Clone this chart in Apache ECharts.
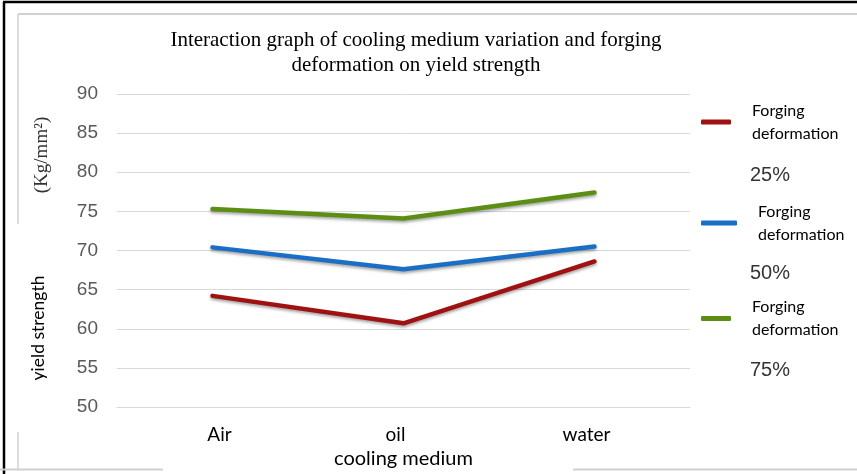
<!DOCTYPE html>
<html>
<head>
<meta charset="utf-8">
<script src="https://cdn.jsdelivr.net/npm/echarts@6/dist/echarts.min.js"></script>
<style>
html,body{margin:0;padding:0;background:#fff;}
#chart{width:857px;height:474px;}
</style>
</head>
<body>
<div id="chart"></div>
<script>
var categories = ['Air', 'oil', 'water'];
var seriesNames = ['Forging deformation 25%', 'Forging deformation 50%', 'Forging deformation 75%'];
var percentLabels = ['25%', '50%', '75%'];
var deform25 = [64.2, 60.7, 68.6];
var deform50 = [70.4, 67.6, 70.5];
var deform75 = [75.3, 74.1, 77.4];
var yTicks = [50, 55, 60, 65, 70, 75, 80, 85, 90];
var titleText = 'Interaction graph of cooling medium variation and forging\ndeformation on yield strength';
var xName = 'cooling medium';
var yName = 'yield strength';
var yUnit = '(Kg/mm\u00B2)';

var colors = ['#A01212', '#1A6FC4', '#5C8E14'];
var values = [deform25, deform50, deform75];

var chart = echarts.init(document.getElementById('chart'), null, {renderer: 'canvas'});

function mkLegend(i, left, top, iconW) {
  return {
    show: true,
    orient: 'vertical',
    left: left,
    top: top,
    padding: 0,
    data: [seriesNames[i]],
    icon: 'roundRect',
    itemWidth: iconW,
    itemHeight: 5,
    selectedMode: false,
    formatter: function () { return 'Forging\ndeformation'; },
    textStyle: {
      fontFamily: 'Lato',
      fontSize: 16,
      color: '#000',
      lineHeight: 23,
      padding: [0, 0, 0, 16]
    }
  };
}

var series = values.map(function (v, i) {
  return {
    name: seriesNames[i],
    type: 'line',
    data: v,
    symbol: 'none',
    lineStyle: {
      width: 4.5,
      color: colors[i],
      cap: 'round',
      join: 'round',
      shadowColor: 'rgba(0,0,0,0.35)',
      shadowBlur: 3,
      shadowOffsetY: 2
    },
    itemStyle: {color: colors[i]},
    z: 3
  };
});

var xLabelFont = {fontFamily: 'Lato', fontSize: 19, color: '#000'};

var option = {
  animation: false,
  backgroundColor: '#fff',
  title: {
    text: titleText,
    left: 416,
    textAlign: 'center',
    top: 27.5,
    padding: 0,
    textStyle: {
      fontFamily: 'Liberation Serif',
      fontWeight: 'normal',
      fontSize: 21,
      color: '#000',
      lineHeight: 25
    }
  },
  legend: [
    mkLegend(0, 701, 99, 30),
    mkLegend(1, 701, 200, 36),
    mkLegend(2, 701, 295.5, 30)
  ],
  grid: {left: 117, right: 167, top: 94, bottom: 67},
  xAxis: {
    type: 'category',
    data: categories,
    boundaryGap: true,
    name: xName,
    nameLocation: 'middle',
    nameGap: 41,
    nameTextStyle: {fontFamily: 'Lato', fontSize: 20, color: '#000'},
    axisLine: {show: true, lineStyle: {color: '#d9d9d9', width: 1}},
    axisTick: {show: false},
    axisLabel: {
      margin: 18,
      fontFamily: 'Lato', fontSize: 19, color: '#000',
      formatter: function (v, i) { return '{l' + i + '|' + v + '}'; },
      rich: {
        l0: Object.assign({padding: [0, 0, 0, 14]}, xLabelFont),
        l1: Object.assign({padding: [0, 16, 0, 0]}, xLabelFont),
        l2: Object.assign({padding: [0, 16, 0, 0]}, xLabelFont)
      }
    }
  },
  yAxis: {
    type: 'value',
    min: yTicks[0],
    max: yTicks[yTicks.length - 1],
    interval: yTicks[1] - yTicks[0],
    axisLine: {show: false},
    axisTick: {show: false},
    axisLabel: {margin: 19, fontFamily: 'Liberation Sans', fontSize: 19, color: '#595959'},
    splitLine: {lineStyle: {color: '#d9d9d9', width: 1}}
  },
  series: series,
  graphic: [
    {type: 'line', shape: {x1: 3, y1: 2, x2: 857, y2: 2}, style: {stroke: '#000', lineWidth: 2.5}, silent: true},
    {type: 'line', shape: {x1: 4, y1: 2, x2: 4, y2: 474}, style: {stroke: '#000', lineWidth: 2.5}, silent: true},
    {type: 'line', shape: {x1: 18, y1: 14, x2: 857, y2: 14}, style: {stroke: '#d0d0d0', lineWidth: 2}, silent: true},
    {type: 'line', shape: {x1: 18, y1: 14, x2: 18, y2: 224}, style: {stroke: '#d0d0d0', lineWidth: 1.5}, silent: true},
    {type: 'line', shape: {x1: 18, y1: 432, x2: 18, y2: 469}, style: {stroke: '#d0d0d0', lineWidth: 1.5}, silent: true},
    {type: 'line', shape: {x1: 0, y1: 469.5, x2: 163, y2: 469.5}, style: {stroke: '#d0d0d0', lineWidth: 2}, silent: true},
    {type: 'line', shape: {x1: 573, y1: 469.5, x2: 857, y2: 469.5}, style: {stroke: '#d0d0d0', lineWidth: 2}, silent: true},
    {
      type: 'text', x: 42, y: 155, rotation: Math.PI / 2,
      style: {text: yUnit, fontFamily: 'Liberation Serif', fontSize: 19, fill: '#333', align: 'center', verticalAlign: 'middle'},
      silent: true
    },
    {
      type: 'text', x: 38, y: 328, rotation: Math.PI / 2,
      style: {text: yName, fontFamily: 'Lato', fontSize: 17.5, fill: '#000', align: 'center', verticalAlign: 'middle'},
      silent: true
    },
    {
      type: 'text', x: 750, y: 175,
      style: {text: percentLabels[0], fontFamily: 'Liberation Sans', fontSize: 20, fill: '#333', align: 'left', verticalAlign: 'middle'},
      silent: true
    },
    {
      type: 'text', x: 750, y: 273,
      style: {text: percentLabels[1], fontFamily: 'Liberation Sans', fontSize: 20, fill: '#333', align: 'left', verticalAlign: 'middle'},
      silent: true
    },
    {
      type: 'text', x: 750, y: 370,
      style: {text: percentLabels[2], fontFamily: 'Liberation Sans', fontSize: 20, fill: '#333', align: 'left', verticalAlign: 'middle'},
      silent: true
    }
  ]
};

chart.setOption(option);
</script>
</body>
</html>
